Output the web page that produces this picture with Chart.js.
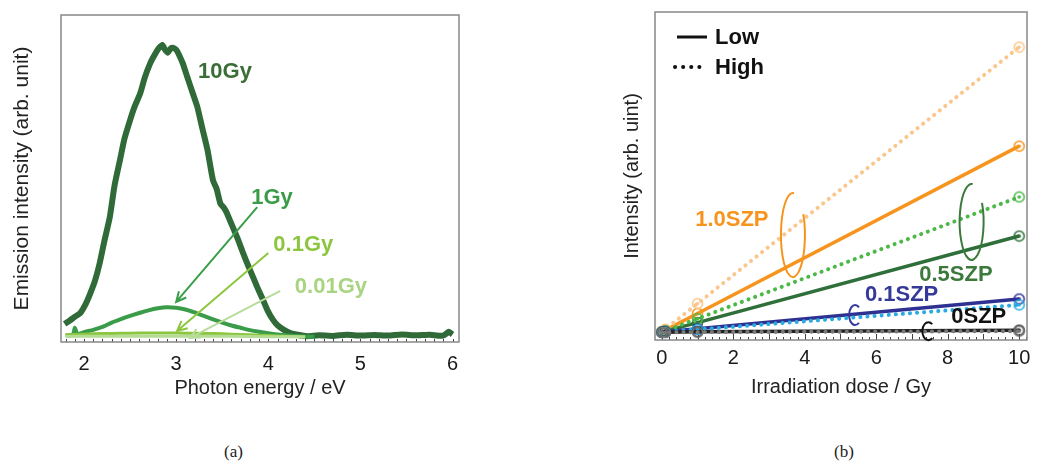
<!DOCTYPE html>
<html>
<head>
<meta charset="utf-8">
<script src="https://cdn.jsdelivr.net/npm/chart.js@4.4.0/dist/chart.umd.min.js"></script>
<style>
  body { margin: 0; background: #fff; width: 1037px; height: 465px; position: relative; overflow: hidden; }
  .panel { position: absolute; top: 0; }
  #wrapA { left: 0; }
  #wrapB { left: 590px; }
  .cap { position: absolute; top: 442px; font: 17px "Liberation Serif", "Times New Roman", serif; color: #222; }
</style>
</head>
<body>
<div class="panel" id="wrapA"><canvas id="chartA" width="480" height="420"></canvas></div>
<div class="panel" id="wrapB"><canvas id="chartB" width="447" height="420"></canvas></div>
<div class="cap" style="left:224px">(a)</div>
<div class="cap" style="left:834px">(b)</div>
<script>
// ---- panel (a): emission spectra ----
const ticksA = [2, 3, 4, 5, 6];

const energy10 = [1.79,1.85,1.9,1.96,2.02,2.07,2.12,2.17,2.22,2.28,2.33,2.39,2.44,2.5,2.55,2.61,2.66,2.72,2.77,2.81,2.85,2.88,2.91,2.94,2.97,3.0,3.02,3.07,3.12,3.17,3.23,3.28,3.34,3.4,3.44,3.48,3.52,3.55,3.6,3.66,3.72,3.77,3.83,3.88,3.94,3.99,4.05,4.1,4.17,4.24,4.32,4.42,4.55,4.7,4.85,5.0,5.15,5.3,5.45,5.6,5.75,5.9,5.96,6.0];
const int10 = [4.5,5.8,7.0,8.3,11.5,15.2,19.5,25.5,33.0,41.4,52.0,61.0,68.5,74.8,79.5,84.0,89.5,94.5,97.5,99.5,100.7,99.0,98.0,99.5,99.7,99.0,98.0,94.5,89.7,85.0,79.3,72.5,64.5,54.0,51.0,46.0,44.5,42.8,39.0,34.5,29.5,25.5,21.0,17.2,13.0,9.3,6.0,4.1,2.5,1.4,0.8,0.3,0.6,0.4,0.8,0.5,0.7,0.5,0.9,0.6,0.8,0.5,1.8,0.9];

const energy1 = [1.8,1.88,1.9,1.93,2.0,2.1,2.2,2.3,2.4,2.5,2.6,2.7,2.8,2.9,3.0,3.1,3.2,3.3,3.4,3.5,3.6,3.7,3.8,3.9,4.0,4.1,4.2,4.3,4.4,4.5];
const int1 = [0.5,0.9,3.2,1.0,1.7,2.5,3.5,5.0,6.2,7.3,8.3,9.2,9.9,10.3,10.1,9.5,8.5,7.3,6.1,5.0,4.0,3.2,2.4,1.8,1.3,0.9,0.6,0.4,0.2,0.1];

const energy01 = [1.8,2.0,2.2,2.4,2.6,2.8,3.0,3.2,3.4,3.6,3.8,4.0,4.2,4.4];
const int01 = [0.8,1.0,1.2,1.3,1.4,1.4,1.4,1.3,1.2,1.0,0.8,0.5,0.3,0.1];

const energy001 = [1.8,2.2,2.6,3.0,3.4,3.8,4.2,4.4];
const int001 = [0.2,0.3,0.3,0.3,0.3,0.2,0.1,0.05];

// labels + arrows of panel (a), in data units
const labelsA = [
  { text: '10Gy',   x: 3.53, y: 91.4, color: '#3b6e36' },
  { text: '1Gy',    x: 4.04, y: 47.9, color: '#3a9c48' },
  { text: '0.1Gy',  x: 4.38, y: 31.7, color: '#8cc63f' },
  { text: '0.01Gy', x: 4.68, y: 17.2, color: '#a9d482' }
];
const arrowsA = [
  { x1: 3.88, y1: 44.8, x2: 3.0,  y2: 12.1, color: '#3a9e4a' },
  { x1: 4.0,  y1: 29.0, x2: 3.01, y2: 2.1,  color: '#8dc63f' },
  { x1: 4.13, y1: 15.9, x2: 3.15, y2: -0.3, color: '#b8dc9a' }
];

// ---- panel (b): intensity vs dose ----
const ticksB = [0, 2, 4, 6, 8, 10];
const dose = [0.01, 0.1, 1, 10];

const szp10Low  = [2.5, 3.0, 8.1, 59.1];
const szp10High = [2.5, 3.3, 11.1, 89.3];
const szp05Low  = [2.4, 2.7, 5.3, 31.7];
const szp05High = [2.4, 2.8, 6.5, 43.6];
const szp01Low  = [2.4, 2.5, 3.4, 12.5];
const szp01High = [2.4, 2.5, 3.2, 10.7];
const szp0Low   = [2.4, 2.4, 2.5, 3.0];
const szp0High  = [2.3, 2.3, 2.4, 2.7];

const labelsB = [
  { text: '1.0SZP', x: 1.96, y: 36.6, color: '#f7941d' },
  { text: '0.5SZP', x: 8.23, y: 19.8, color: '#3c7a3c' },
  { text: '0.1SZP', x: 6.71, y: 13.7, color: '#34399a' },
  { text: '0SZP',   x: 8.87, y: 7.0,  color: '#111111' }
];
// rings grouping low/high pairs
const ringsB = [
  { x: 3.67, y: 32.0, rx: 12, ry: 42, a0: -30, a1: 275, color: '#f7941d' },
  { x: 8.67, y: 36.0, rx: 12, ry: 38, a0: -30, a1: 275, color: '#3c7a3c' },
  { x: 5.41, y: 7.6,  rx: 6,  ry: 10, a0: 50,  a1: 310, color: '#34399a' },
  { x: 7.46, y: 2.7,  rx: 6,  ry: 9,  a0: 50,  a1: 310, color: '#111111' }
];

function zip(xs, ys) {
  return xs.map((x, i) => ({ x: x, y: ys[i] }));
}

function makeMarker(color) {
  const c = document.createElement('canvas');
  c.width = 13; c.height = 13;
  const g = c.getContext('2d');
  g.strokeStyle = color;
  g.fillStyle = color;
  g.lineWidth = 1.5;
  g.beginPath(); g.arc(6.5, 6.5, 5, 0, Math.PI * 2); g.stroke();
  g.beginPath(); g.arc(6.5, 6.5, 1.8, 0, Math.PI * 2); g.fill();
  return c;
}

// gray box + small inward ticks along the bottom
function framePlugin(minorStep, minorLen, majorStep, majorLen) {
  return {
    id: 'frame',
    beforeDatasetsDraw(chart) {
      const { ctx, chartArea: a, scales: { x } } = chart;
      ctx.save();
      ctx.strokeStyle = '#444';
      ctx.lineWidth = 1;
      ctx.beginPath();
      const first = Math.ceil(x.min / minorStep) * minorStep;
      for (let v = first; v <= x.max + 1e-9; v += minorStep) {
        const px = Math.round(x.getPixelForValue(v)) + 0.5;
        const isMajor = majorStep && Math.abs(v / majorStep - Math.round(v / majorStep)) < 1e-6;
        ctx.moveTo(px, a.bottom);
        ctx.lineTo(px, a.bottom - (isMajor ? majorLen : minorLen));
      }
      ctx.stroke();
      ctx.strokeStyle = '#888';
      ctx.lineWidth = 1.5;
      ctx.strokeRect(a.left, a.top, a.right - a.left, a.bottom - a.top);
      ctx.restore();
    }
  };
}

const annotA = {
  id: 'annotA',
  afterDatasetsDraw(chart) {
    const { ctx, scales: { x, y } } = chart;
    ctx.save();
    arrowsA.forEach(ar => {
      const x1 = x.getPixelForValue(ar.x1), y1 = y.getPixelForValue(ar.y1);
      const x2 = x.getPixelForValue(ar.x2), y2 = y.getPixelForValue(ar.y2);
      const ang = Math.atan2(y2 - y1, x2 - x1);
      ctx.strokeStyle = ar.color;
      ctx.lineWidth = 2;
      ctx.beginPath();
      ctx.moveTo(x1, y1); ctx.lineTo(x2, y2);
      ctx.moveTo(x2 - 11 * Math.cos(ang - 0.45), y2 - 11 * Math.sin(ang - 0.45));
      ctx.lineTo(x2, y2);
      ctx.lineTo(x2 - 11 * Math.cos(ang + 0.45), y2 - 11 * Math.sin(ang + 0.45));
      ctx.stroke();
    });
    ctx.font = 'bold 22px "Liberation Sans", Arial, sans-serif';
    ctx.textAlign = 'center';
    ctx.textBaseline = 'middle';
    labelsA.forEach(l => {
      ctx.fillStyle = l.color;
      ctx.fillText(l.text, x.getPixelForValue(l.x), y.getPixelForValue(l.y));
    });
    ctx.restore();
  }
};

const annotB = {
  id: 'annotB',
  afterDatasetsDraw(chart) {
    const { ctx, chartArea: a, scales: { x, y } } = chart;
    ctx.save();
    ringsB.forEach(r => {
      ctx.strokeStyle = r.color;
      ctx.lineWidth = 2;
      ctx.beginPath();
      ctx.ellipse(x.getPixelForValue(r.x), y.getPixelForValue(r.y), r.rx, r.ry, 0,
        r.a0 * Math.PI / 180, r.a1 * Math.PI / 180);
      ctx.stroke();
    });
    ctx.font = 'bold 22px "Liberation Sans", Arial, sans-serif';
    ctx.textAlign = 'center';
    ctx.textBaseline = 'middle';
    labelsB.forEach(l => {
      ctx.fillStyle = l.color;
      ctx.fillText(l.text, x.getPixelForValue(l.x), y.getPixelForValue(l.y));
    });
    // line-style legend
    ctx.strokeStyle = '#111';
    ctx.lineWidth = 3;
    ctx.beginPath();
    ctx.moveTo(a.left + 22, a.top + 25); ctx.lineTo(a.left + 52, a.top + 25);
    ctx.stroke();
    ctx.lineCap = 'round';
    ctx.setLineDash([0.1, 8]);
    ctx.lineWidth = 4;
    ctx.beginPath();
    ctx.moveTo(a.left + 20, a.top + 55); ctx.lineTo(a.left + 50, a.top + 55);
    ctx.stroke();
    ctx.setLineDash([]);
    ctx.fillStyle = '#111';
    ctx.textAlign = 'left';
    ctx.fillText('Low', a.left + 60, a.top + 26);
    ctx.fillText('High', a.left + 60, a.top + 56);
    ctx.restore();
  }
};

const tickFont = { family: '"Liberation Sans", Arial, sans-serif', size: 20 };
const titleFont = { family: '"Liberation Sans", Arial, sans-serif', size: 20 };

function specLine(xs, ys, color, width) {
  return {
    data: zip(xs, ys), borderColor: color, borderWidth: width,
    pointRadius: 0, tension: 0.2, borderJoinStyle: 'round', fill: false
  };
}

new Chart(document.getElementById('chartA'), {
  type: 'line',
  data: {
    datasets: [
      specLine(energy001, int001, '#b5dc94', 3),
      specLine(energy01, int01, '#8cc63f', 3),
      specLine(energy1, int1, '#3a9c48', 4),
      specLine(energy10, int10, '#2f6a38', 6)
    ]
  },
  options: {
    responsive: false,
    animation: false,
    layout: { padding: { top: 15, right: 21, left: 0, bottom: 18 } },
    plugins: { legend: { display: false }, tooltip: { enabled: false } },
    scales: {
      x: {
        type: 'linear', min: 1.75, max: 6.07,
        grid: { display: false }, border: { display: false },
        afterBuildTicks: s => { s.ticks = ticksA.map(v => ({ value: v })); },
        ticks: { font: tickFont, color: '#1a1a1a', padding: 2 },
        title: { display: true, text: 'Photon energy / eV', font: titleFont, color: '#222', padding: { top: 0, bottom: 2 } },
        afterFit: s => { s.height = 60; }
      },
      y: {
        min: -1.7, max: 111,
        ticks: { display: false }, grid: { display: false }, border: { display: false },
        title: { display: true, text: 'Emission intensity (arb. unit)', font: { family: titleFont.family, size: 21 }, color: '#222', padding: { top: 10, bottom: 0 } },
        afterFit: s => { s.width = 61; }
      }
    }
  },
  plugins: [framePlugin(0.1, 3, 0, 3), annotA]
});

function doseLine(ys, color, dotted) {
  const ds = {
    data: zip(dose, ys), borderColor: color, borderWidth: dotted ? 4 : 3.5,
    pointStyle: makeMarker(color), pointRadius: 6, fill: false, tension: 0
  };
  if (dotted) {
    ds.borderDash = [0.1, 7];
    ds.borderCapStyle = 'round';
  }
  return ds;
}

new Chart(document.getElementById('chartB'), {
  type: 'line',
  data: {
    datasets: [
      doseLine(szp0High, '#7a7a7a', true),
      doseLine(szp0Low, '#222222', false),
      doseLine(szp01High, '#29abe2', true),
      doseLine(szp01Low, '#2e3192', false),
      doseLine(szp05High, '#4cb848', true),
      doseLine(szp05Low, '#2e6f3a', false),
      doseLine(szp10High, '#fbc68c', true),
      doseLine(szp10Low, '#f7941d', false)
    ]
  },
  options: {
    responsive: false,
    animation: false,
    layout: { padding: { top: 12, right: 5, left: 0, bottom: 20 } },
    plugins: { legend: { display: false }, tooltip: { enabled: false } },
    scales: {
      x: {
        type: 'linear', min: -0.19, max: 10.22,
        grid: { display: false }, border: { display: false },
        afterBuildTicks: s => { s.ticks = ticksB.map(v => ({ value: v })); },
        ticks: { font: tickFont, color: '#1a1a1a', padding: -2 },
        title: { display: true, text: 'Irradiation dose / Gy', font: titleFont, color: '#222', padding: { top: 0, bottom: 1 } },
        afterFit: s => { s.height = 60; }
      },
      y: {
        min: 0, max: 100,
        ticks: { display: false }, grid: { display: false }, border: { display: false },
        title: { display: true, text: 'Intensity (arb. uint)', font: titleFont, color: '#222', padding: { top: 30, bottom: 0 } },
        afterFit: s => { s.width = 65; }
      }
    }
  },
  plugins: [framePlugin(0.2, 3, 1, 6), annotB]
});
</script>
</body>
</html>
